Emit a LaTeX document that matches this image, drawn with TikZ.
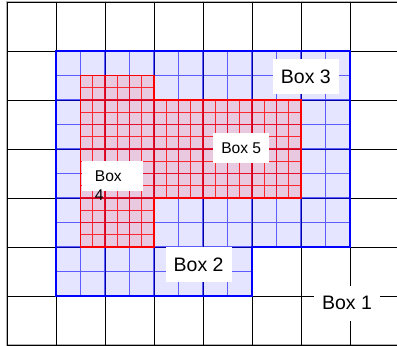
\documentclass[tikz,border=0pt]{standalone}
\usepackage{fontspec}
\setmainfont{Liberation Sans}
\usepackage{tikz}
\usepackage{xcolor}

\begin{document}
\begin{tikzpicture}[x=49pt, y=49pt,
    biglabel/.style={fill=white, inner sep=0pt, minimum width=66pt, minimum height=35pt, font=\fontsize{19.5}{23}\selectfont},
    smalllabel/.style={fill=white, inner sep=0pt, minimum width=56pt, minimum height=30pt, font=\fontsize{15.6}{19}\selectfont}]
    \useasboundingbox (-7pt,-1pt) rectangle (390pt,345pt);

    % Draw the frame and the coarse grid (Box 1)
    \draw[gray!60, line width=2.5pt] (0,0) rectangle (8,7);
    \draw[black, line width=0.8pt] (0,0) grid[step=1] (8,7);

    % Box 2 and Box 3 (blue region, half steps)
    \fill[blue, opacity=0.1] (1,1) -- (5,1) -- (5,2) -- (7,2) -- (7,6) -- (1,6) -- cycle;
    \begin{scope}
        \clip (1,1) -- (5,1) -- (5,2) -- (7,2) -- (7,6) -- (1,6) -- cycle;
        \draw[blue, opacity=0.6, line width=1.2pt] (1,1) grid[step=0.5] (7,6);
    \end{scope}

    % Box 4 and Box 5 (red region, quarter steps)
    \fill[red, opacity=0.12] (1.5,2) -- (3,2) -- (3,3) -- (6,3) -- (6,5) -- (3,5) -- (3,5.5) -- (1.5,5.5) -- cycle;
    \begin{scope}
        \clip (1.5,2) -- (3,2) -- (3,3) -- (6,3) -- (6,5) -- (3,5) -- (3,5.5) -- (1.5,5.5) -- cycle;
        \draw[red, opacity=0.8, line width=1.1pt] (1.5,2) grid[step=0.25] (6,5.5);
    \end{scope}

    % Outlines
    \draw[blue, line width=1.8pt] (1,1) -- (5,1) -- (5,2) -- (7,2) -- (7,6) -- (1,6) -- cycle;
    \draw[red, line width=1.8pt] (1.5,2) -- (3,2) -- (3,3) -- (6,3) -- (6,5) -- (3,5) -- (3,5.5) -- (1.5,5.5) -- cycle;

    % Labels
    \node[biglabel] (box1) at (6.94,0.85) {Box 1};
    \node[biglabel] (box2) at (3.91,1.64) {Box 2};
    \node[biglabel] (box3) at (6.10,5.48) {Box 3};
    \node[smalllabel] (box5) at (4.78,4.02) {Box 5};
    \node[fill=white, inner xsep=13pt, inner ysep=4pt, text width=35pt, align=left,
          text height=17pt, text depth=5pt, font=\fontsize{15.6}{19}\selectfont] (box4) at (2.15,3.45) {Box 4};
\end{tikzpicture}
\end{document}
